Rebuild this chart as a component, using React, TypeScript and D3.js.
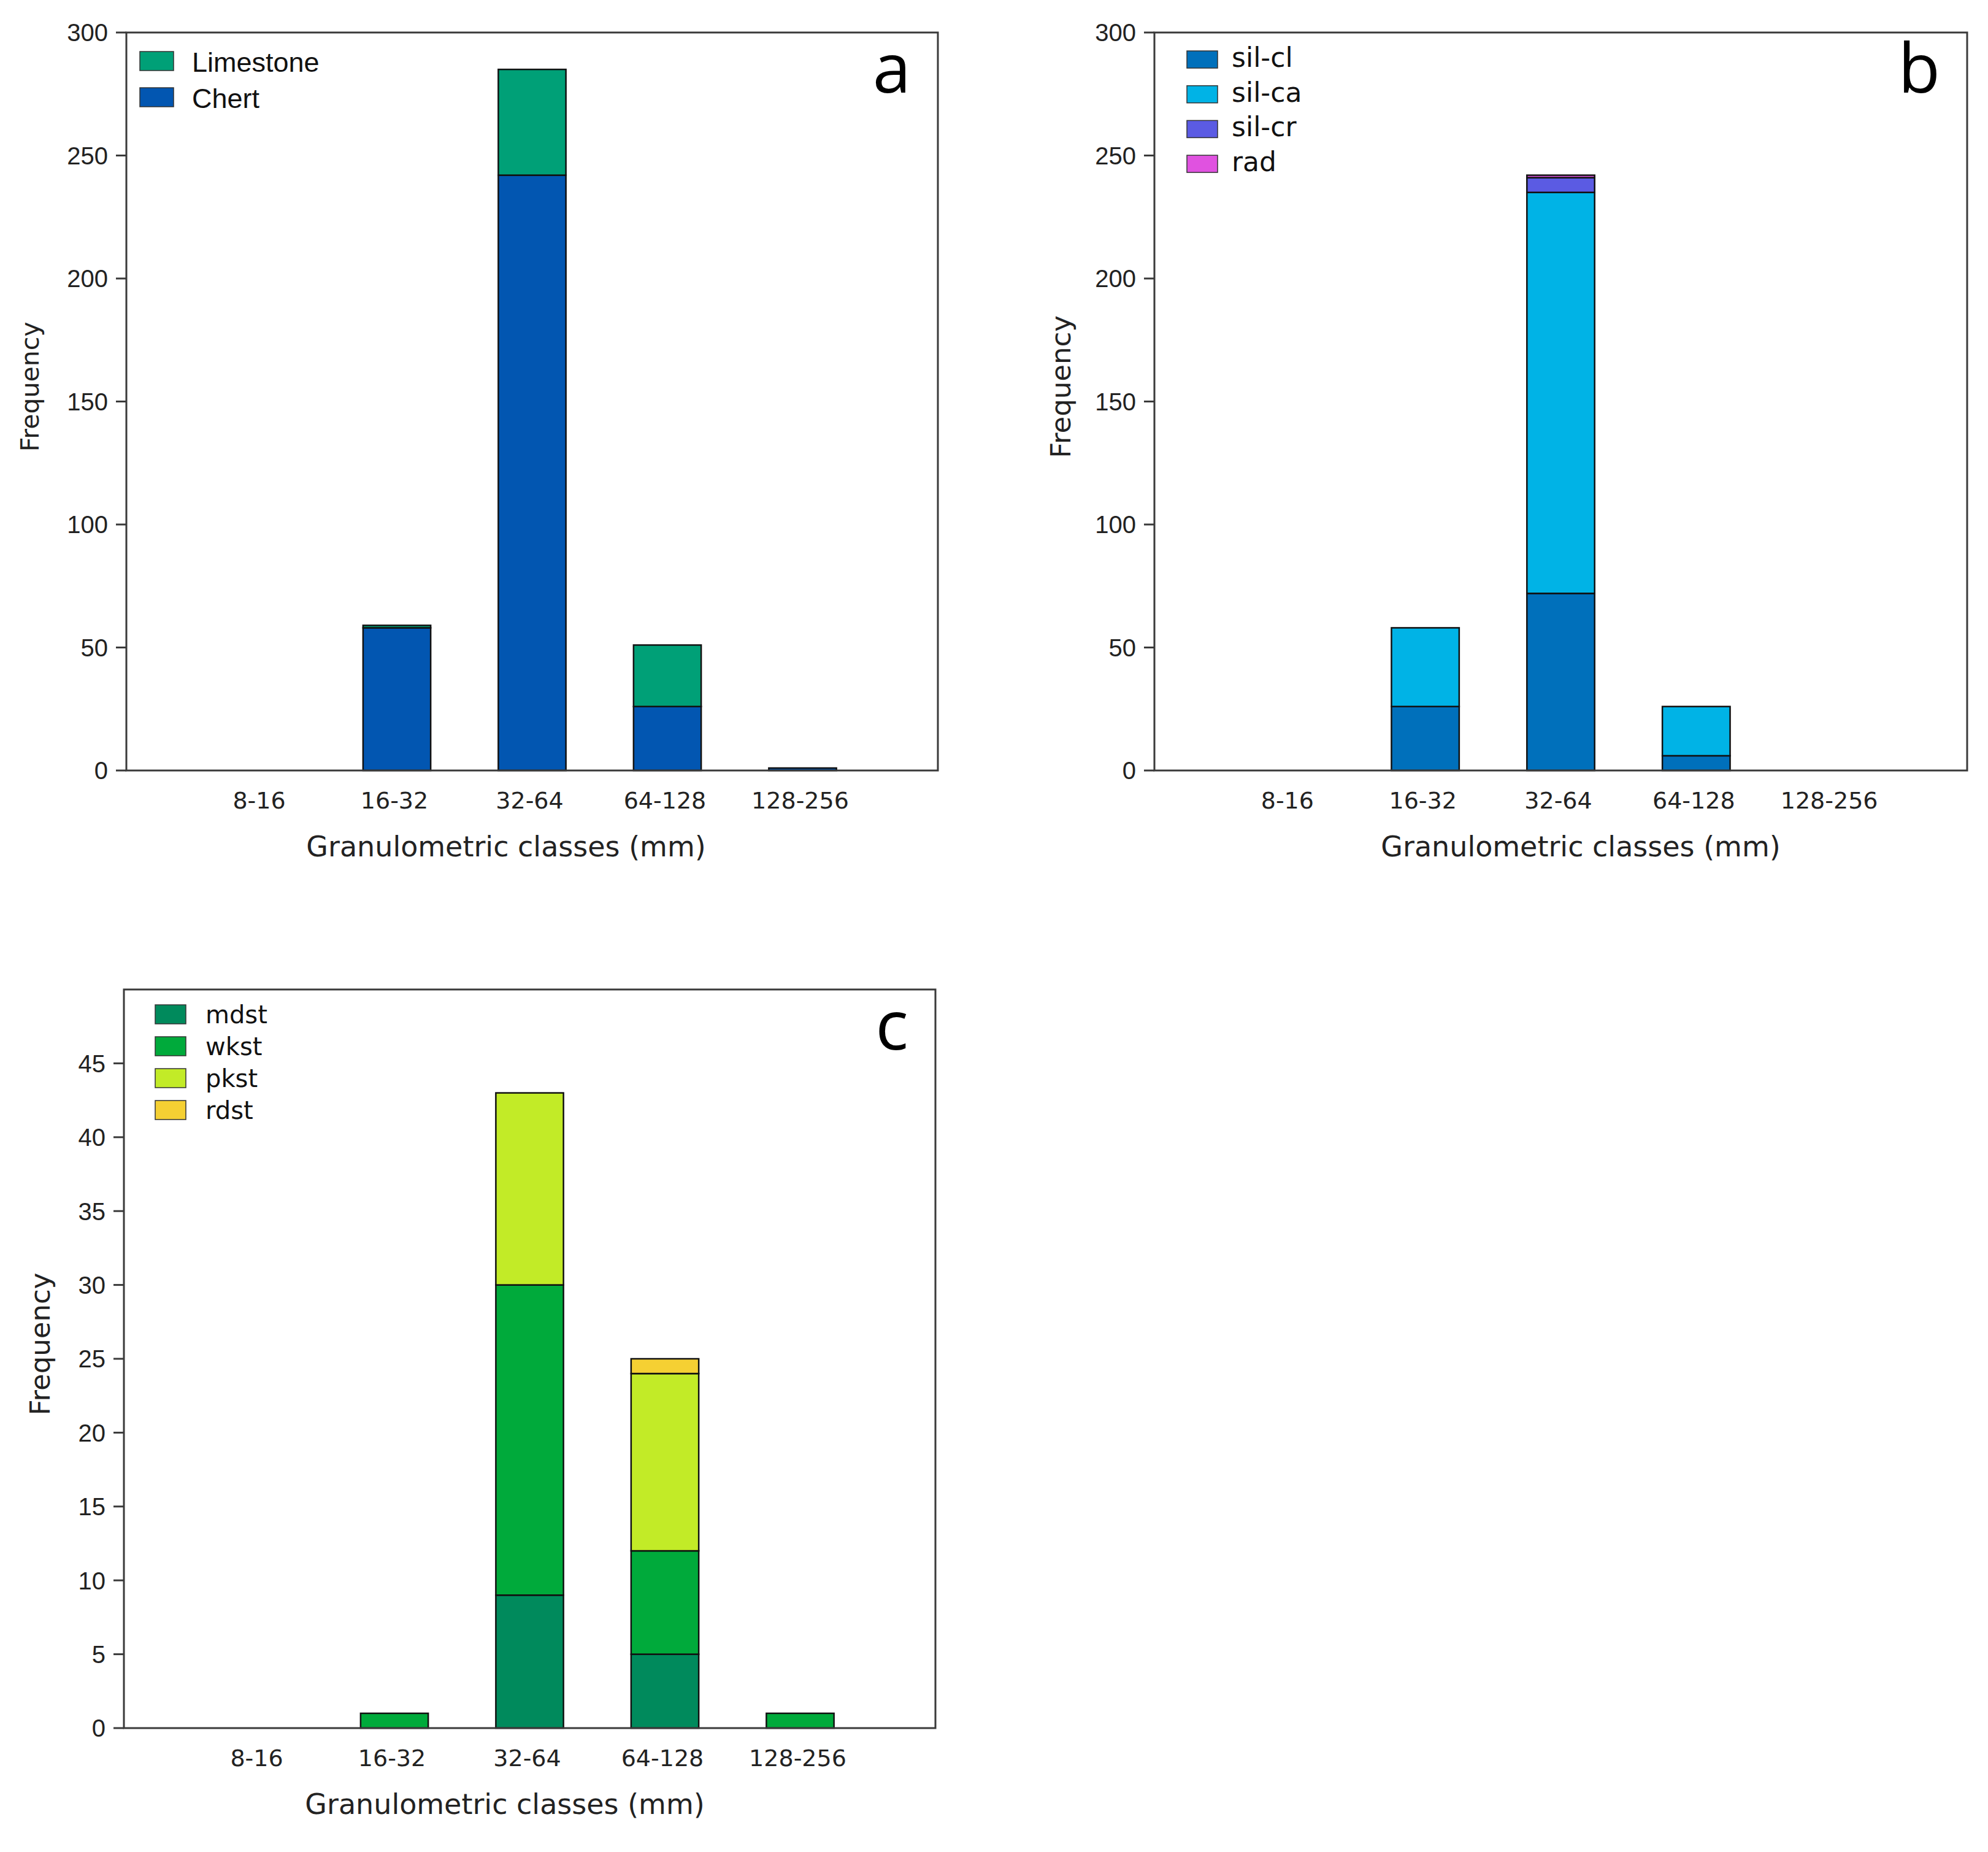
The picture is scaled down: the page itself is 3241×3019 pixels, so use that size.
import React from 'react';
import * as d3 from 'd3';

// Granulometric classes shared by all three panels
const classes = ['8-16', '16-32', '32-64', '64-128', '128-256'];

// Panel a
const chert = [0, 58, 242, 26, 1];
const limestone = [0, 1, 43, 25, 0];

// Panel b
const silCl = [0, 26, 72, 6, 0];
const silCa = [0, 32, 163, 20, 0];
const silCr = [0, 0, 6, 0, 0];
const rad = [0, 0, 1, 0, 0];

// Panel c
const mdst = [0, 0, 9, 5, 0];
const wkst = [0, 1, 21, 7, 1];
const pkst = [0, 0, 13, 12, 0];
const rdst = [0, 0, 0, 1, 0];

const ticksAB = [0, 50, 100, 150, 200, 250, 300];
const ticksC = [0, 5, 10, 15, 20, 25, 30, 35, 40, 45];

interface Series {
  name: string;
  values: number[];
  color: string;
}

interface PanelProps {
  letter: string;
  series: Series[]; // bottom to top
  legendOrder: string[];
  yMax: number;
  yTicks: number[];
  box: { left: number; right: number; top: number; bottom: number };
  legend: { x: number; y: number; w: number; h: number; gap: number; textX: number; font: string; size: number; baseline: number };
  titleX: number;
  freqX: number;
  freqSize: number;
}

const TICK_FONT = '"DejaVu Sans", Verdana, sans-serif';
const ARIAL = '"Liberation Sans", Arial, sans-serif';

const Panel: React.FC<PanelProps> = ({ letter, series, legendOrder, yMax, yTicks, box, legend, titleX, freqX, freqSize }) => {
  const { left, right, top, bottom } = box;
  const x = d3.scaleLinear().domain([0, classes.length + 1]).range([left, right]);
  const y = d3.scaleLinear().domain([0, yMax]).range([bottom, top]);
  const barW = x(0.5) - x(0);

  const rows = classes.map((c, i) => {
    const row: Record<string, number | string> = { cls: c };
    series.forEach(s => { row[s.name] = s.values[i]; });
    return row;
  });
  const stacked = d3.stack<Record<string, number | string>>().keys(series.map(s => s.name))(rows as any);
  const colorOf = (n: string) => series.find(s => s.name === n)!.color;

  return (
    <g>
      {/* bars */}
      {stacked.map(layer => (
        <g key={layer.key}>
          {layer.map((d, i) => {
            if (d[1] - d[0] <= 0) return null;
            return (
              <rect
                key={i}
                x={x(i + 1) - barW / 2}
                y={y(d[1])}
                width={barW}
                height={y(d[0]) - y(d[1])}
                fill={colorOf(layer.key)}
                stroke="#111"
                strokeWidth={2.5}
              />
            );
          })}
        </g>
      ))}

      {/* frame */}
      <rect x={left} y={top} width={right - left} height={bottom - top} fill="none" stroke="#3a3a3a" strokeWidth={3} />

      {/* y ticks */}
      {yTicks.map(t => (
        <g key={t}>
          <line x1={left - 17} x2={left} y1={y(t)} y2={y(t)} stroke="#3a3a3a" strokeWidth={3} />
          <text x={left - 30} y={y(t)} dy="0.36em" textAnchor="end" fontFamily={ARIAL} fontSize={40} fill="#222">
            {t}
          </text>
        </g>
      ))}

      {/* x tick labels */}
      {classes.map((c, i) => (
        <text key={c} x={x(i + 1) - 4} y={bottom + 62} textAnchor="middle" fontFamily={TICK_FONT} fontSize={38} fill="#222">
          {c}
        </text>
      ))}

      {/* axis titles */}
      <text x={titleX} y={bottom + 140} textAnchor="middle" fontFamily={TICK_FONT} fontSize={46} fill="#222">
        Granulometric classes (mm)
      </text>
      <text
        transform={`translate(${freqX}, ${top + (bottom - top) * 0.48}) rotate(-90)`}
        textAnchor="middle"
        fontFamily={TICK_FONT}
        fontSize={freqSize}
        fill="#222"
      >
        Frequency
      </text>

      {/* legend */}
      {legendOrder.map((n, k) => (
        <g key={n}>
          <rect
            x={legend.x}
            y={legend.y + k * legend.gap}
            width={legend.w}
            height={legend.h}
            fill={colorOf(n)}
            stroke="#333"
            strokeWidth={1.5}
          />
          <text
            x={legend.textX}
            y={legend.y + k * legend.gap + legend.baseline}
            fontFamily={legend.font}
            fontSize={legend.size}
            fill="#111"
          >
            {n}
          </text>
        </g>
      ))}

      {/* panel letter */}
      <text x={right - 44} y={top + 98} textAnchor="end" fontFamily='"Open Sans", sans-serif' fontSize={112} fill="#000">
        {letter}
      </text>
    </g>
  );
};

export default function App() {
  return (
    <svg
      width={3241}
      height={3019}
      style={{ position: 'absolute', left: 0, top: 0, background: '#fff' }}
    >
      <rect width={3241} height={3019} fill="#fff" />
      <Panel
        letter="a"
        series={[
          { name: 'Chert', values: chert, color: '#0256B1' },
          { name: 'Limestone', values: limestone, color: '#00A077' },
        ]}
        legendOrder={['Limestone', 'Chert']}
        yMax={300}
        yTicks={ticksAB}
        box={{ left: 206, right: 1529, top: 53, bottom: 1256 }}
        legend={{ x: 228, y: 84, w: 55, h: 31, gap: 59, textX: 313, font: ARIAL, size: 45, baseline: 33 }}
        titleX={825}
        freqX={63}
        freqSize={41}
      />
      <Panel
        letter="b"
        series={[
          { name: 'sil-cl', values: silCl, color: '#0070BB' },
          { name: 'sil-ca', values: silCa, color: '#00B3E6' },
          { name: 'sil-cr', values: silCr, color: '#5B5BE3' },
          { name: 'rad', values: rad, color: '#E052E0' },
        ]}
        legendOrder={['sil-cl', 'sil-ca', 'sil-cr', 'rad']}
        yMax={300}
        yTicks={ticksAB}
        box={{ left: 1882, right: 3207, top: 53, bottom: 1256 }}
        legend={{ x: 1935, y: 83, w: 50, h: 28, gap: 56.7, textX: 2008, font: TICK_FONT, size: 44, baseline: 26 }}
        titleX={2577}
        freqX={1745}
        freqSize={45}
      />
      <Panel
        letter="c"
        series={[
          { name: 'mdst', values: mdst, color: '#008A5C' },
          { name: 'wkst', values: wkst, color: '#00AA3B' },
          { name: 'pkst', values: pkst, color: '#C2EB27' },
          { name: 'rdst', values: rdst, color: '#F5D033' },
        ]}
        legendOrder={['mdst', 'wkst', 'pkst', 'rdst']}
        yMax={50}
        yTicks={ticksC}
        box={{ left: 202, right: 1525, top: 1613, bottom: 2817 }}
        legend={{ x: 253, y: 1638, w: 50, h: 31, gap: 52, textX: 335, font: TICK_FONT, size: 40, baseline: 30 }}
        titleX={823}
        freqX={81}
        freqSize={45}
      />
    </svg>
  );
}
